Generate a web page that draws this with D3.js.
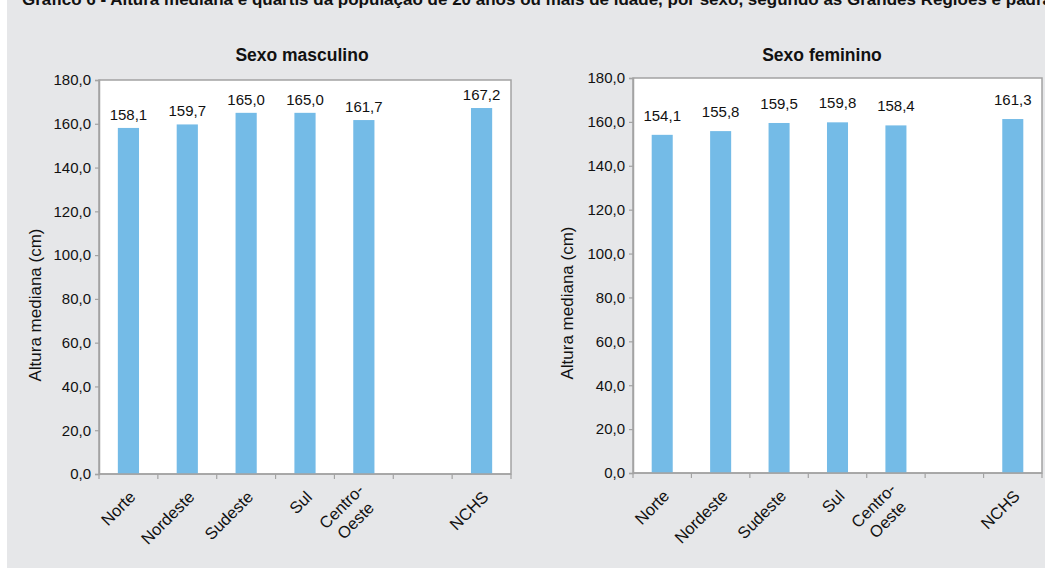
<!DOCTYPE html>
<html>
<head>
<meta charset="utf-8">
<script src="https://cdn.jsdelivr.net/npm/d3@7"></script>
<style>
  html, body { margin: 0; padding: 0; background: #ffffff; }
  svg { display: block; font-family: "Liberation Sans", Arial, Helvetica, sans-serif; }
</style>
</head>
<body>
<svg id="chart" width="1045" height="574"></svg>
<script>
// Categories (blank slot separates the regions from the NCHS reference)
const categories = ["Norte", "Nordeste", "Sudeste", "Sul", "Centro-\nOeste", "", "NCHS"];
// Median height (cm), population aged 20+
const maleValues   = [158.1, 159.7, 165.0, 165.0, 161.7, null, 167.2];
const femaleValues = [154.1, 155.8, 159.5, 159.8, 158.4, null, 161.3];
const yTicks = [0, 20, 40, 60, 80, 100, 120, 140, 160, 180];
const panelTitles = ["Sexo masculino", "Sexo feminino"];
const yLabel = "Altura mediana (cm)";
const headline = "Gráfico 6 - Altura mediana e quartis da população de 20 anos ou mais de idade, por sexo, segundo as Grandes Regiões e padrão internacional NCHS - período 2002-2003";

const BAR = "#74bbe7";
const FRAME = "#a3a3a3";
const INK = "#111111";

const fmt = v => d3.format(".1f")(v).replace(".", ",");

const svg = d3.select("#chart");

// grey background panel
svg.append("rect")
  .attr("x", 7).attr("y", 0)
  .attr("width", 1038).attr("height", 568)
  .attr("fill", "#e6e7e9");

// headline, running off the top edge
svg.append("text")
  .attr("x", 22).attr("y", 5)
  .attr("font-size", 17).attr("font-weight", "bold")
  .attr("fill", INK)
  .text(headline);

const panels = [
  { title: panelTitles[0], values: maleValues,   x0: 99,  x1: 511,  y0: 80, y1: 474, titleX: 302, labelX: 35,    labelY: 305, valGap: 8 },
  { title: panelTitles[1], values: femaleValues, x0: 633, x1: 1042, y0: 78, y1: 473, titleX: 822, labelX: 567.5, labelY: 303, valGap: 14 }
];

panels.forEach(p => {
  const g = svg.append("g");

  const x = d3.scaleBand().domain(d3.range(categories.length)).range([p.x0, p.x1]).padding(0);
  const y = d3.scaleLinear().domain([0, 180]).range([p.y1, p.y0]);
  const barW = x.step() * 0.36;

  // plot area
  g.append("rect")
    .attr("x", p.x0).attr("y", p.y0)
    .attr("width", p.x1 - p.x0).attr("height", p.y1 - p.y0)
    .attr("fill", "#ffffff")
    .attr("stroke", FRAME).attr("stroke-width", 1.5);

  const pts = p.values.map((v, i) => ({ v, i })).filter(d => d.v != null);

  // bars
  g.selectAll("rect.bar")
    .data(pts)
    .join("rect")
    .attr("class", "bar")
    .attr("x", d => x(d.i) + x.bandwidth() / 2 - barW / 2)
    .attr("y", d => y(d.v))
    .attr("width", barW)
    .attr("height", d => y(0) - y(d.v))
    .attr("fill", BAR);

  // value labels
  g.selectAll("text.val")
    .data(pts)
    .join("text")
    .attr("class", "val")
    .attr("x", d => x(d.i) + x.bandwidth() / 2)
    .attr("y", d => y(d.v) - p.valGap)
    .attr("text-anchor", "middle")
    .attr("font-size", 15)
    .attr("fill", INK)
    .text(d => fmt(d.v));

  // y axis
  const yAxis = d3.axisLeft(y).tickValues(yTicks).tickSize(4).tickPadding(4).tickFormat(fmt);
  const ya = g.append("g").attr("transform", `translate(${p.x0},0)`).call(yAxis);
  ya.select(".domain").attr("stroke", FRAME).attr("stroke-width", 1.5);
  ya.selectAll(".tick line").attr("stroke", FRAME).attr("stroke-width", 1.2);
  ya.selectAll(".tick text").attr("font-size", 15).attr("fill", INK)
    .attr("font-family", "Liberation Sans, Arial, sans-serif");

  // x axis tick marks at band edges
  const edges = d3.range(categories.length + 1).map(i => p.x0 + i * x.step());
  g.selectAll("line.xt")
    .data(edges)
    .join("line")
    .attr("class", "xt")
    .attr("x1", d => d).attr("x2", d => d)
    .attr("y1", p.y1).attr("y2", p.y1 + 5)
    .attr("stroke", FRAME).attr("stroke-width", 1.2);
  g.append("line")
    .attr("x1", p.x0).attr("x2", p.x1)
    .attr("y1", p.y1).attr("y2", p.y1)
    .attr("stroke", FRAME).attr("stroke-width", 1.5);

  // rotated category labels
  categories.forEach((c, i) => {
    if (!c) return;
    const lines = c.split("\n");
    const cx = x(i) + x.bandwidth() / 2;
    const t = g.append("text")
      .attr("transform", `translate(${cx + 4},${p.y1 + 20}) rotate(-45)`)
      .attr("font-size", 16.5)
      .attr("fill", INK)
      .attr("text-anchor", "middle");
    const spans = lines.map((ln, k) => t.append("tspan")
      .attr("x", 0)
      .attr("y", (k - (lines.length - 1) / 2) * 20)
      .attr("dy", "0.35em")
      .text(ln));
    const maxW = d3.max(spans, s => s.node().getComputedTextLength());
    spans.forEach(s => s.attr("x", -maxW / 2));
  });

  // panel title
  g.append("text")
    .attr("x", p.titleX).attr("y", 61)
    .attr("text-anchor", "middle")
    .attr("font-size", 17.5).attr("font-weight", "bold")
    .attr("fill", INK)
    .text(p.title);

  // y axis title
  g.append("text")
    .attr("transform", `translate(${p.labelX},${p.labelY}) rotate(-90)`)
    .attr("text-anchor", "middle")
    .attr("dy", "0.35em")
    .attr("font-size", 17)
    .attr("fill", INK)
    .text(yLabel);
});
</script>
</body>
</html>
